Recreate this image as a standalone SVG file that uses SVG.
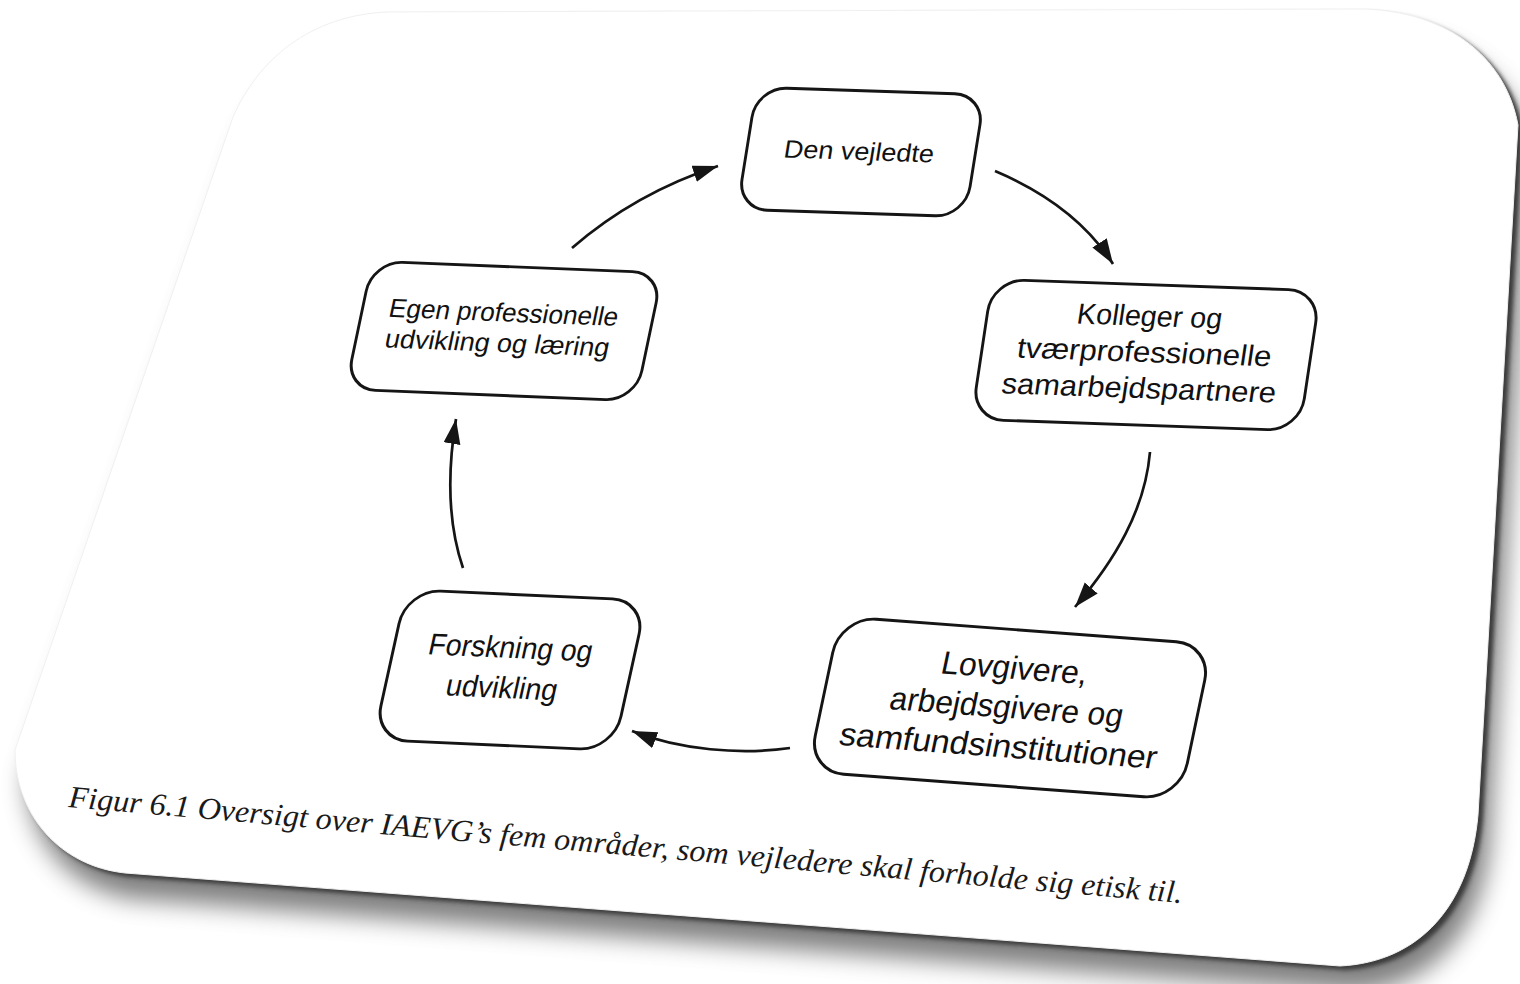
<svg xmlns="http://www.w3.org/2000/svg" width="1520" height="984" viewBox="0 0 1520 984">
  <defs>
    <style>
      .box { fill: #ffffff; stroke: #151515; stroke-width: 2.9; }
      .lbl { font-family: "Liberation Sans", Arial, sans-serif; fill: #111111; text-anchor: middle; }
      .conn { fill: none; stroke: #151515; stroke-width: 2.7; marker-end: url(#ah); }
      .cap { font-family: "Liberation Serif", "Times New Roman", serif; font-style: italic; fill: #1a1a1a; }
    </style>
    <marker id="ah" markerWidth="28" markerHeight="20" refX="25" refY="8.5" orient="auto" markerUnits="userSpaceOnUse">
      <path d="M0,0 L25,8.5 L0,17 Z" fill="#151515"/>
    </marker>
    <filter id="shadow" x="-10%" y="-10%" width="130%" height="140%">
      <feGaussianBlur in="SourceAlpha" stdDeviation="12" result="bl"/>
      <feOffset in="bl" dx="12" dy="26" result="off"/>
      <feFlood flood-color="#000000" flood-opacity="0.5"/>
      <feComposite in2="off" operator="in"/>
    </filter>
    <filter id="rimblur" x="-5%" y="-5%" width="110%" height="110%">
      <feGaussianBlur stdDeviation="2"/>
    </filter>
    <path id="cardShape" d="M 388,12 L 1365,9 C 1445,12 1505,55 1518,125 L 1478,815 C 1470,905 1420,962 1340,966 L 125,873 C 60,866 15,815 15,750 L 233,117 C 258,60 310,15 388,12 Z"/>
  </defs>

  <rect x="0" y="0" width="1520" height="984" fill="#ffffff"/>

  <!-- page card -->
  <g id="card">
    <use href="#cardShape" filter="url(#shadow)"/>
    <use href="#cardShape" transform="translate(5,4)" fill="#3a3a3a" filter="url(#rimblur)"/>
    <use href="#cardShape" fill="#ffffff" stroke="#f0f0f0" stroke-width="1"/>
  </g>

  <!-- connectors -->
  <g id="connectors">
    <path class="conn" d="M 572,248 C 610,215 660,185 718,166"/>
    <path class="conn" d="M 995,171 C 1040,190 1085,220 1113,264"/>
    <path class="conn" d="M 1150,452 C 1145,510 1115,560 1075,607"/>
    <path class="conn" d="M 790,748 C 740,755 680,750 632,731"/>
    <path class="conn" d="M 463,568 C 450,530 446,480 456,419"/>
  </g>

  <!-- nodes -->
  <g id="node-den-vejledte" transform="matrix(1 0.033 -0.16 1 861 152)">
    <rect class="box" x="-114" y="-61" width="228" height="122" rx="30" ry="30"/>
    <text class="lbl" x="-2" y="8" font-size="25" textLength="150" lengthAdjust="spacingAndGlyphs">Den vejledte</text>
  </g>

  <g id="node-kolleger" transform="matrix(1 0.035 -0.15 1 1146 355)">
    <rect class="box" x="-164" y="-70" width="328" height="140" rx="32" ry="32"/>
    <text class="lbl" x="-2" y="-29" font-size="29" textLength="145" lengthAdjust="spacingAndGlyphs">Kolleger og</text>
    <text class="lbl" x="-2" y="7" font-size="29" textLength="254" lengthAdjust="spacingAndGlyphs">tværprofessionelle</text>
    <text class="lbl" x="-2" y="43" font-size="29" textLength="274" lengthAdjust="spacingAndGlyphs">samarbejdspartnere</text>
  </g>

  <g id="node-lovgivere" transform="matrix(1 0.075 -0.21 1 1010 708)">
    <rect class="box" x="-186" y="-77.5" width="372" height="155" rx="36" ry="36"/>
    <text class="lbl" x="-3.5" y="-29" font-size="32" textLength="146" lengthAdjust="spacingAndGlyphs">Lovgivere,</text>
    <text class="lbl" x="-3.5" y="10" font-size="32" textLength="233" lengthAdjust="spacingAndGlyphs">arbejdsgivere og</text>
    <text class="lbl" x="-3.5" y="49" font-size="32" textLength="317" lengthAdjust="spacingAndGlyphs">samfundsinstitutioner</text>
  </g>

  <g id="node-forskning" transform="matrix(1 0.045 -0.22 1 510 670)">
    <rect class="box" x="-120" y="-75" width="240" height="150" rx="34" ry="34"/>
    <text class="lbl" x="-4" y="-12" font-size="30" textLength="164" lengthAdjust="spacingAndGlyphs">Forskning og</text>
    <text class="lbl" x="-4" y="28" font-size="30" textLength="111" lengthAdjust="spacingAndGlyphs">udvikling</text>
  </g>

  <g id="node-egen" transform="matrix(1 0.04 -0.21 1 504 331)">
    <rect class="box" x="-145" y="-64" width="290" height="128" rx="30" ry="30"/>
    <text class="lbl" x="-4" y="-9.5" font-size="26" textLength="229" lengthAdjust="spacingAndGlyphs">Egen professionelle</text>
    <text class="lbl" x="-4" y="21" font-size="26" textLength="224" lengthAdjust="spacingAndGlyphs">udvikling og læring</text>
  </g>

  <!-- caption -->
  <text class="cap" transform="translate(68,807) rotate(4.93)" font-size="31" textLength="1118" lengthAdjust="spacingAndGlyphs">Figur 6.1 Oversigt over IAEVG’s fem områder, som vejledere skal forholde sig etisk til.</text>
</svg>
